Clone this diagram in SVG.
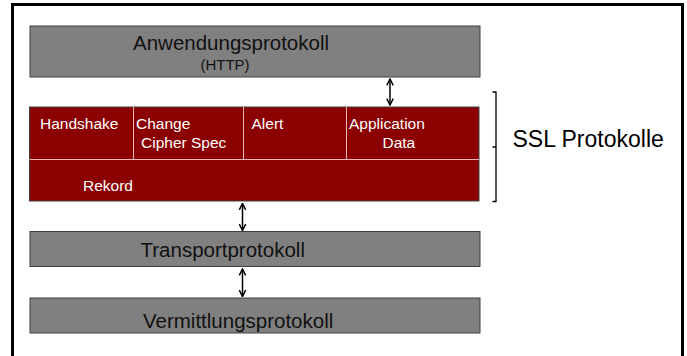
<svg xmlns="http://www.w3.org/2000/svg" width="687" height="356" viewBox="0 0 687 356">
<defs>
<style>
.gray{fill:#808080;stroke:#404040;stroke-width:1}
.red{fill:#8b0000;stroke:#404040;stroke-width:1}
.big{font-family:"Liberation Sans",Arial,sans-serif;font-size:20.5px;fill:#111}
.small{font-family:"Liberation Sans",Arial,sans-serif;font-size:15px;fill:#111}
.wt{font-family:"Liberation Sans",Arial,sans-serif;font-size:15.5px;fill:#ffffff}
.div{stroke:#e6b8b8;stroke-width:1;fill:none}
.conn{stroke:#000;stroke-width:1.5;fill:none;marker-start:url(#ah);marker-end:url(#ah)}
</style>
<marker id="ah" viewBox="0 0 10 10" refX="9" refY="5" markerWidth="8" markerHeight="9" orient="auto-start-reverse" markerUnits="userSpaceOnUse">
<path d="M1,1 L9,5 L1,9" fill="none" stroke="#000" stroke-width="1.8"/>
</marker>
</defs>
<rect width="687" height="356" fill="#fff"/>
<path d="M12.5,356 V4.5 H682.5 V356" fill="none" stroke="#000" stroke-width="3"/>
<g id="anwendung">
<rect class="gray" x="30" y="26" width="450" height="51"/>
<text class="big" x="133" y="50">Anwendungsprotokoll</text>
<text class="small" x="225" y="69.5" text-anchor="middle">(HTTP)</text>
</g>
<g id="ssl">
<rect class="red" x="29.5" y="107" width="449.5" height="94"/>
<path class="div" d="M29.5,159.5 H479 M133.5,107 V159.5 M243.5,107 V159.5 M346.5,107 V159.5"/>
<text class="wt" x="40" y="128.5">Handshake</text>
<text class="wt" x="136" y="128.5">Change</text>
<text class="wt" x="141" y="148">Cipher Spec</text>
<text class="wt" x="251.5" y="128.5">Alert</text>
<text class="wt" x="349" y="128.5">Application</text>
<text class="wt" x="382.5" y="148">Data</text>
<text class="wt" x="83" y="191">Rekord</text>
</g>
<g id="transport">
<rect class="gray" x="30" y="231.5" width="450" height="35"/>
<text class="big" x="140.5" y="257">Transportprotokoll</text>
</g>
<g id="vermittlung">
<rect class="gray" x="30" y="298" width="450" height="35"/>
<text class="big" x="143" y="328">Vermittlungsprotokoll</text>
</g>
<g id="bracket">
<path d="M492.5,92 H496 V201.5 H492.5 M496,147 H492.5" fill="none" stroke="#000" stroke-width="1.3"/>
<text x="512.5" y="147" font-family="Liberation Sans, Arial, sans-serif" font-size="23" fill="#000">SSL Protokolle</text>
</g>
<g id="connectors">
<line class="conn" x1="390" y1="79" x2="390" y2="105"/>
<line class="conn" x1="242.5" y1="203.5" x2="242.5" y2="230.5"/>
<line class="conn" x1="242.5" y1="269" x2="242.5" y2="296.5"/>
</g>
</svg>
